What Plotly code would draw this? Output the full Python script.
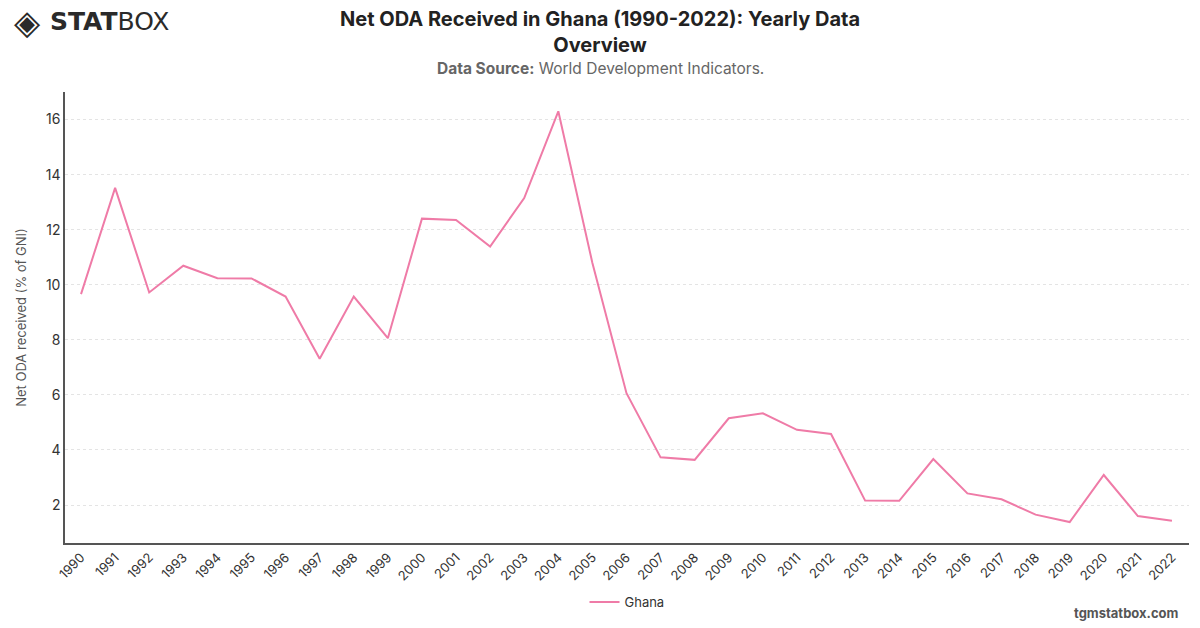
import plotly.graph_objects as go

years = [str(y) for y in range(1990, 2023)]
oda_pct_gni = [9.66, 13.52, 9.72, 10.69, 10.24, 10.23, 9.57, 7.31, 9.57, 8.06,
               12.40, 12.35, 11.39, 13.15, 16.30, 10.79, 6.06, 3.73, 3.64, 5.15,
               5.33, 4.73, 4.58, 2.16, 2.15, 3.67, 2.42, 2.21, 1.65, 1.38,
               3.09, 1.60, 1.43]
y_ticks = [2, 4, 6, 8, 10, 12, 14, 16]

FONT = "Inter, Roboto, 'Open Sans', sans-serif"
W, H = 1200, 628
ML, MR, MT, MB = 65, 11, 92, 85
PW, PH = W - ML - MR, H - MT - MB


def px(x):
    return (x - ML) / PW


def py(y):
    return (H - MB - y) / PH


fig = go.Figure()
fig.add_trace(go.Scatter(
    x=years, y=oda_pct_gni, mode="lines", name="Ghana",
    line=dict(color="#EF7BA7", width=2),
))

fig.update_layout(
    width=W, height=H,
    margin=dict(l=ML, r=MR, t=MT, b=MB, autoexpand=False),
    paper_bgcolor="white", plot_bgcolor="white",
    font=dict(family=FONT, color="#333"),
    showlegend=True,
    legend=dict(orientation="h", x=0.5, xanchor="center", y=py(587), yanchor="top",
                font=dict(size=13, color="#333")),
    xaxis=dict(
        type="category", range=[-0.47, 32.5], automargin=False,
        tickangle=-45, tickfont=dict(size=13, color="#333"),
        showline=True, linecolor="#555", linewidth=1.5,
        showgrid=False, ticks="", zeroline=False,
    ),
    yaxis=dict(
        range=[0.62, 17.0], tickvals=y_ticks, automargin=False,
        tickfont=dict(size=14, color="#333"),
        title=dict(text="Net ODA received (% of GNI)", font=dict(size=13, color="#555"), standoff=16),
        showline=True, linecolor="#555", linewidth=1.5,
        showgrid=True, gridcolor="#e4e4e4", griddash="dot", gridwidth=1,
        ticks="", zeroline=False,
    ),
    annotations=[
        dict(text="<b>Net ODA Received in Ghana (1990-2022): Yearly Data<br>Overview</b>",
             x=px(W / 2), xref="paper", xanchor="center",
             y=py(5), yref="paper", yanchor="top", showarrow=False,
             font=dict(size=20, color="#222", family=FONT)),
        dict(text="<b>Data Source:</b> World Development Indicators.",
             x=px(W / 2), xref="paper", xanchor="center",
             y=py(68), yref="paper", yanchor="middle", showarrow=False,
             font=dict(size=15.5, color="#666", family=FONT)),
        dict(text="<b>tgmstatbox.com</b>", x=px(1181), xref="paper", xanchor="right",
             y=py(613), yref="paper", yanchor="middle", showarrow=False,
             font=dict(size=13, color="#555", family=FONT)),
        dict(text="◈", x=px(12), xref="paper", xanchor="left",
             y=py(22), yref="paper", yanchor="middle", showarrow=False,
             font=dict(size=34, color="#2a2a2a", family="'DejaVu Sans', sans-serif")),
        dict(text="<b>STAT</b>BOX", x=px(48), xref="paper", xanchor="left",
             y=py(22), yref="paper", yanchor="middle", showarrow=False,
             font=dict(size=25, color="#2a2a2a", family="'DejaVu Sans', sans-serif")),
    ],
)

fig.write_html("out.html")
